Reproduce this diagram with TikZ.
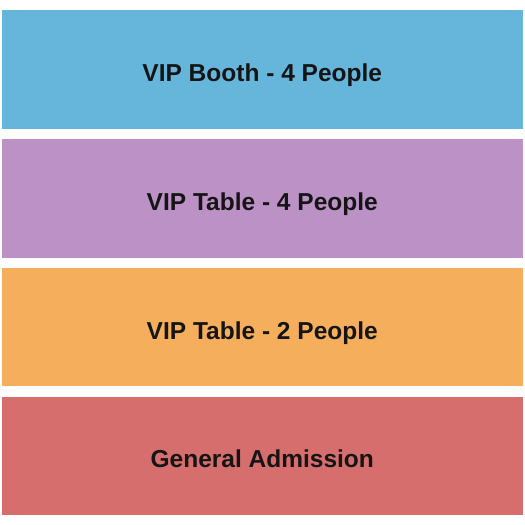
\documentclass[tikz,border=0pt]{standalone}
\usepackage{fontspec}
\setmainfont{Liberation Sans}
\definecolor{cblue}{HTML}{66B6DC}
\definecolor{cpurple}{HTML}{BC92C6}
\definecolor{corange}{HTML}{F5AE5C}
\definecolor{cred}{HTML}{D66E6E}
\definecolor{ctext}{HTML}{151515}
\begin{document}
\begin{tikzpicture}[x=1pt,y=-1pt,
  section/.style={draw=none},
  label/.style={anchor=base,text=ctext,font=\fontsize{24.5}{28}\selectfont\bfseries,inner sep=0pt}]
\useasboundingbox[fill=white] (0,0) rectangle (525,525);
\fill[cblue]   (2,10)  rectangle (522.5,128.5);
\fill[cpurple] (2,139) rectangle (522.5,257.5);
\fill[corange] (2,268) rectangle (522.5,386);
\fill[cred]    (2,397) rectangle (522.5,515);
\node[label] (booth) at (262.25,81.5) {VIP Booth - 4 People};
\node[label] (t4) at (262.25,210.5) {VIP Table - 4 People};
\node[label] (t2) at (262.25,339) {VIP Table - 2 People};
\node[label] (ga) at (262.25,467) {General Admission};
\end{tikzpicture}
\end{document}
